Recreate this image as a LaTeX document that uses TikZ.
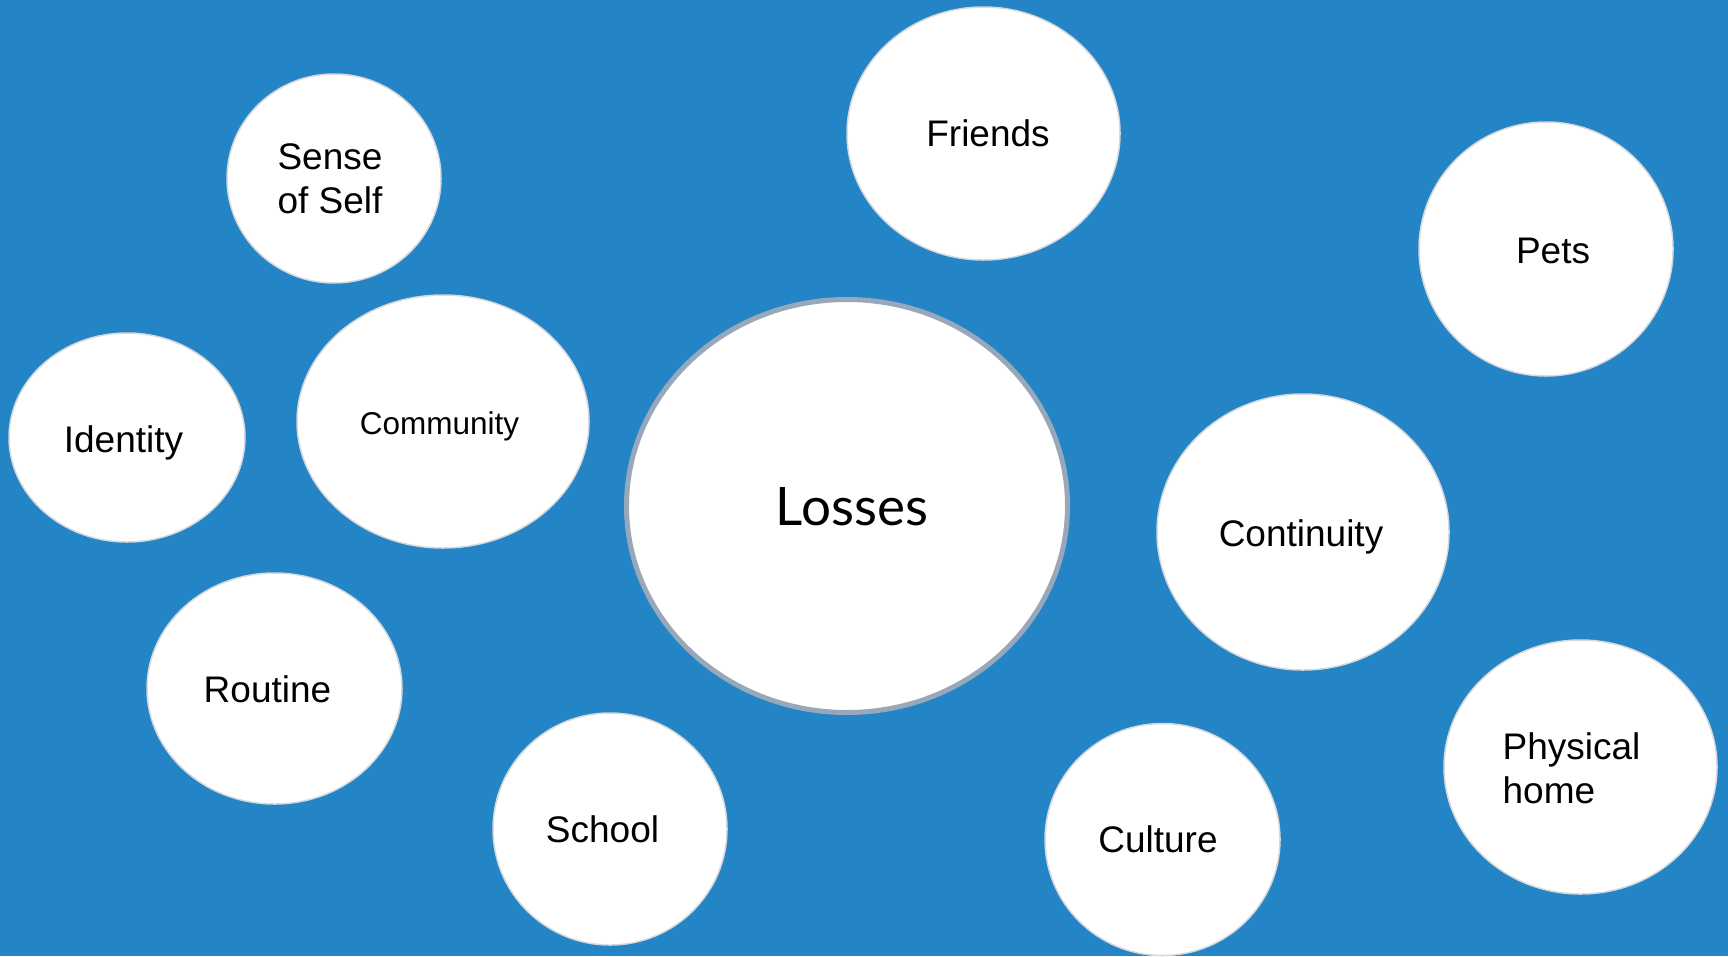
\documentclass[tikz,border=0pt]{standalone}
\usepackage{fontspec}
\setmainfont{Liberation Sans}
\newfontfamily\latofont{Lato}
\usetikzlibrary{shapes.geometric}
\definecolor{bgblue}{HTML}{2384C6}
\definecolor{rimgray}{HTML}{D6D8DC}
\definecolor{corerim}{HTML}{97A8BA}
\tikzset{
  bubble/.style={ellipse, fill=white, draw=rimgray, line width=1.5pt, inner sep=0pt},
  core/.style={ellipse, fill=white, draw=corerim, line width=5pt, inner sep=0pt},
  word/.style={inner sep=0pt, font=\fontsize{37}{44}\selectfont, text height=26.5pt, text depth=0pt},
  smallword/.style={inner sep=0pt, font=\fontsize{31.5}{38}\selectfont, text height=22.6pt, text depth=0pt},
  twoline/.style={inner sep=0pt, font=\fontsize{37}{44}\selectfont},
  bigword/.style={inner sep=0pt, font=\latofont\fontsize{53}{60}\selectfont, text height=38pt, text depth=0pt}
}
\begin{document}
\begin{tikzpicture}[x=1pt,y=-1pt]
  \fill[bgblue] (0,0) rectangle (1728,956);
  \useasboundingbox (0,0) rectangle (1728,956);

  % central bubble
  \node[core, minimum width=441pt, minimum height=413pt] (losses) at (847,506) {};
  \node[bigword] (losses-t) at ([xshift=5pt]losses.center) {Losses};

  % surrounding bubbles
  \node[bubble, minimum width=273pt, minimum height=253pt] (friends) at (983.5,133.5) {};
  \node[word] (friends-t) at ([xshift=4.5pt]friends.center) {Friends};

  \node[bubble, minimum width=214pt, minimum height=209pt] (self) at (334,178.5) {};
  \node[twoline, align=center] (self-t) at ([xshift=-4pt]self.center) {Sense\\of Self};

  \node[bubble, minimum width=254pt, minimum height=254pt] (pets) at (1546,249) {};
  \node[word] (pets-t) at ([xshift=7pt, yshift=-1pt]pets.center) {Pets};

  \node[bubble, minimum width=236pt, minimum height=209pt] (identity) at (127,437.5) {};
  \node[word] (identity-t) at ([xshift=-3.5pt, yshift=-2pt]identity.center) {Identity};

  \node[bubble, minimum width=292pt, minimum height=253pt] (community) at (443,421.5) {};
  \node[smallword] (community-t) at ([xshift=-3.5pt, yshift=-1.5pt]community.center) {Community};

  \node[bubble, minimum width=292pt, minimum height=276pt] (continuity) at (1303,532) {};
  \node[word] (continuity-t) at ([xshift=-2pt, yshift=-1pt]continuity.center) {Continuity};

  \node[bubble, minimum width=255pt, minimum height=231pt] (routine) at (274.5,688.5) {};
  \node[word] (routine-t) at ([xshift=-7pt, yshift=-1pt]routine.center) {Routine};

  \node[bubble, minimum width=234pt, minimum height=232pt] (school) at (610,829) {};
  \node[word] (school-t) at ([xshift=-7.5pt]school.center) {School};

  \node[bubble, minimum width=235pt, minimum height=232pt] (culture) at (1162.5,839.5) {};
  \node[word] (culture-t) at ([xshift=-4.5pt]culture.center) {Culture};

  \node[bubble, minimum width=273pt, minimum height=254pt] (home) at (1580.5,767) {};
  \node[twoline, align=left] (home-t) at ([xshift=-9pt, yshift=-1pt]home.center) {Physical\\home};
\end{tikzpicture}
\end{document}
